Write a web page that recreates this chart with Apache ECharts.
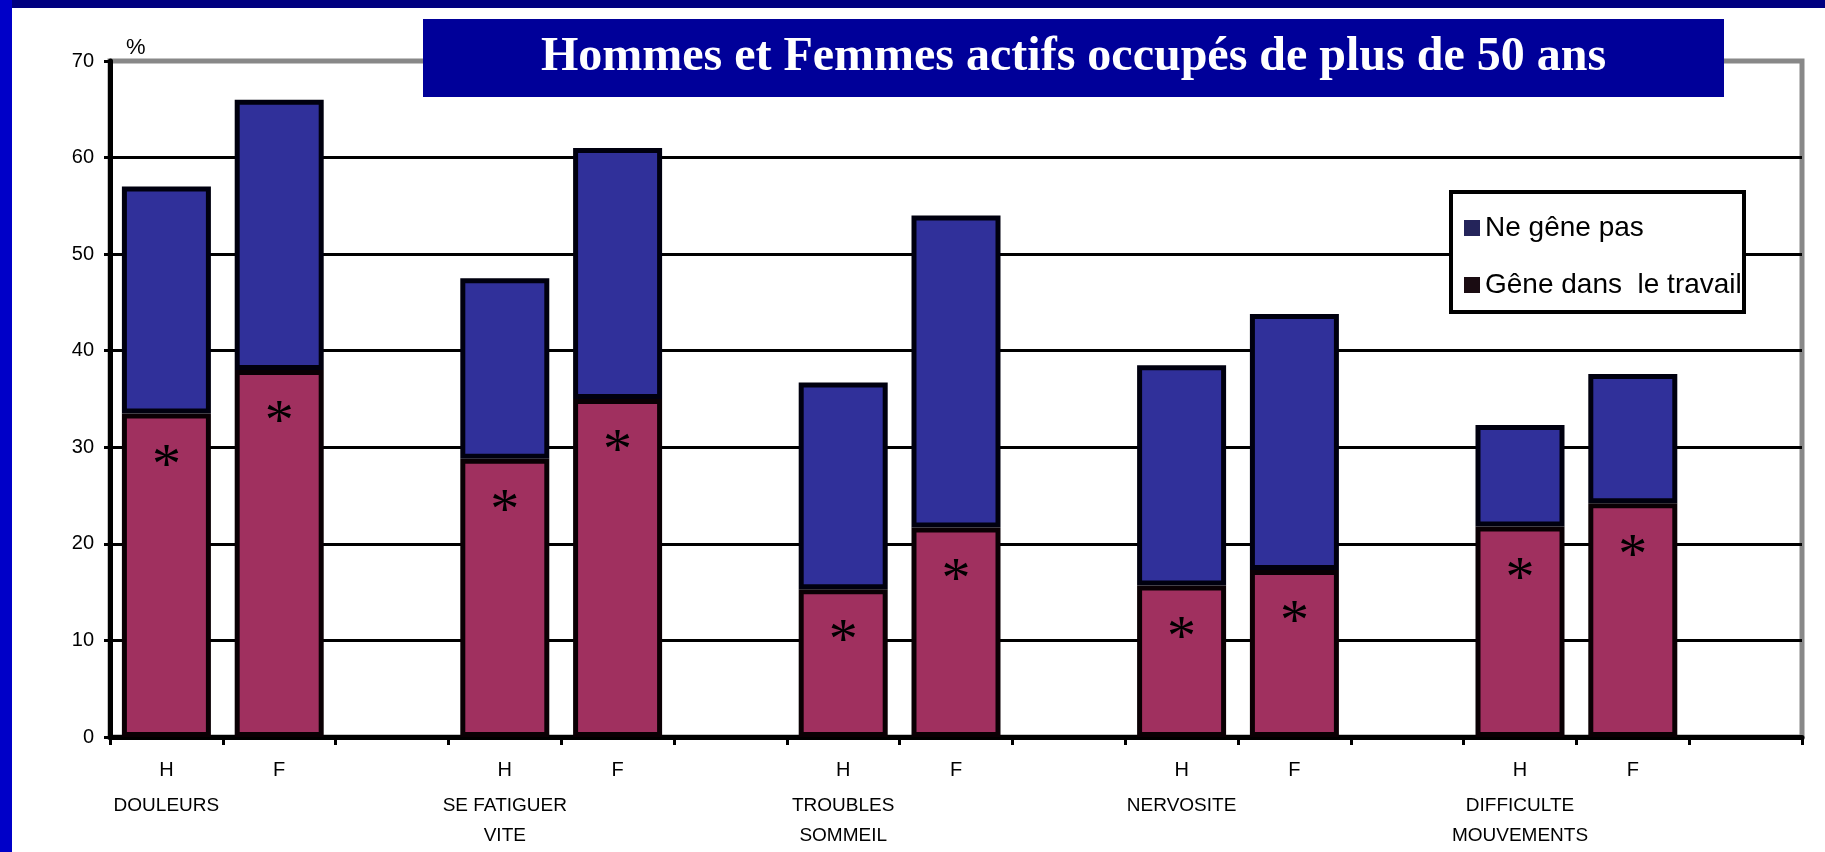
<!DOCTYPE html>
<html>
<head>
<meta charset="utf-8">
<script src="https://cdn.jsdelivr.net/npm/echarts@6/dist/echarts.min.js"></script>
<style>
html,body{margin:0;padding:0;background:#fff;}
#chart{width:1825px;height:852px;}
</style>
</head>
<body>
<div id="chart"></div>
<script>
// ---- data ----
const categories = ['H','F','','H','F','','H','F','','H','F','','H','F',''];
const groupLabels = ['DOULEURS','','','SE FATIGUER\nVITE','','','TROUBLES\nSOMMEIL','','','NERVOSITE','','','DIFFICULTE\nMOUVEMENTS','',''];
const geneDansLeTravail = [33.5,38,null,28.8,35,null,15.3,21.7,null,15.7,17.3,null,21.8,24.2,null];
const neGenePas        = [23.5,28,null,18.7,26,null,21.4,32.3,null,22.8,26.5,null,10.5,13.4,null];
const yTicks = [0,10,20,30,40,50,60,70];
const titleText = 'Hommes et Femmes actifs occupés de plus de 50 ans';
const seriesNames = ['Ne gêne pas','Gêne dans  le travail'];

const chart = echarts.init(document.getElementById('chart'), null, {renderer:'canvas'});
const font = '"Liberation Sans", Arial, sans-serif';

chart.setOption({
  backgroundColor:'#ffffff',
  animation:false,
  grid:{left:110, right:23, top:61, bottom:115, show:true, borderColor:'#888', borderWidth:5, backgroundColor:'#fff'},
  xAxis:{
    type:'category', data:categories,
    axisLine:{lineStyle:{color:'#000', width:5}},
    axisTick:{show:true, interval:0, length:8, lineStyle:{color:'#000', width:3}},
    axisLabel:{
      interval:0, margin:12, color:'#000',
      formatter:function(v, i){
        let s = '{h|' + v + '}';
        const g = groupLabels[i];
        if (g) s += '\n' + g.split('\n').map(t => '{g|' + t + '}').join('\n');
        return s;
      },
      rich:{
        h:{fontFamily:font, fontSize:20, lineHeight:42, color:'#000'},
        g:{fontFamily:font, fontSize:19, lineHeight:30, color:'#000'}
      }
    }
  },
  yAxis:{
    type:'value', min:yTicks[0], max:yTicks[yTicks.length-1], interval:10,
    name:'%', nameLocation:'end', nameGap:2,
    nameTextStyle:{fontFamily:font, fontSize:22, color:'#000', align:'left', padding:[0,0,0,16]},
    axisLine:{show:true, lineStyle:{color:'#000', width:5}},
    axisTick:{show:true, length:6, lineStyle:{color:'#000', width:3}},
    axisLabel:{fontFamily:font, fontSize:20, color:'#000', margin:16},
    splitLine:{show:true, showMaxLine:false, lineStyle:{color:'#000', width:3}}
  },
  legend:{
    orient:'vertical', left:1459, top:208,
    itemWidth:16, itemHeight:16, itemGap:27,
    icon:'rect',
    textStyle:{fontFamily:font, fontSize:28, lineHeight:30, color:'#000'},
    data:[
      {name:seriesNames[0], itemStyle:{color:'#24245a', borderWidth:0}},
      {name:seriesNames[1], itemStyle:{color:'#1a0c12', borderWidth:0}}
    ],
    selectedMode:false
  },
  graphic:[
    {type:'rect', z:1, shape:{x:0,y:0,width:1825,height:8}, style:{fill:'#000080'}},
    {type:'rect', z:1, shape:{x:0,y:0,width:12,height:852}, style:{fill:'#0000c8'}},
    {type:'rect', z:3, shape:{x:423,y:19,width:1301,height:78}, style:{fill:'#000099'}},
    {type:'text', z:4, x:1073.5, y:58, style:{text:titleText, fill:'#fff', font:'bold 48px "Liberation Serif", "Times New Roman", serif', textAlign:'center', textVerticalAlign:'middle'}},
    {type:'rect', z:3, shape:{x:1451,y:192,width:293,height:120}, style:{fill:'#fff', stroke:'#000', lineWidth:4}}
  ],
  series:[
    {
      name:seriesNames[1], type:'bar', stack:'total', data:geneDansLeTravail,
      barWidth:89,
      itemStyle:{color:'#a0305f', borderColor:'#0a0004', borderWidth:5},
      label:{show:true, formatter:'*', position:'insideTop', distance:25,
        fontFamily:'"Liberation Serif", "Times New Roman", serif', fontSize:58, color:'#000'}
    },
    {
      name:seriesNames[0], type:'bar', stack:'total', data:neGenePas,
      barWidth:89,
      itemStyle:{color:'#30309a', borderColor:'#00000f', borderWidth:5}
    }
  ]
});
</script>
</body>
</html>
